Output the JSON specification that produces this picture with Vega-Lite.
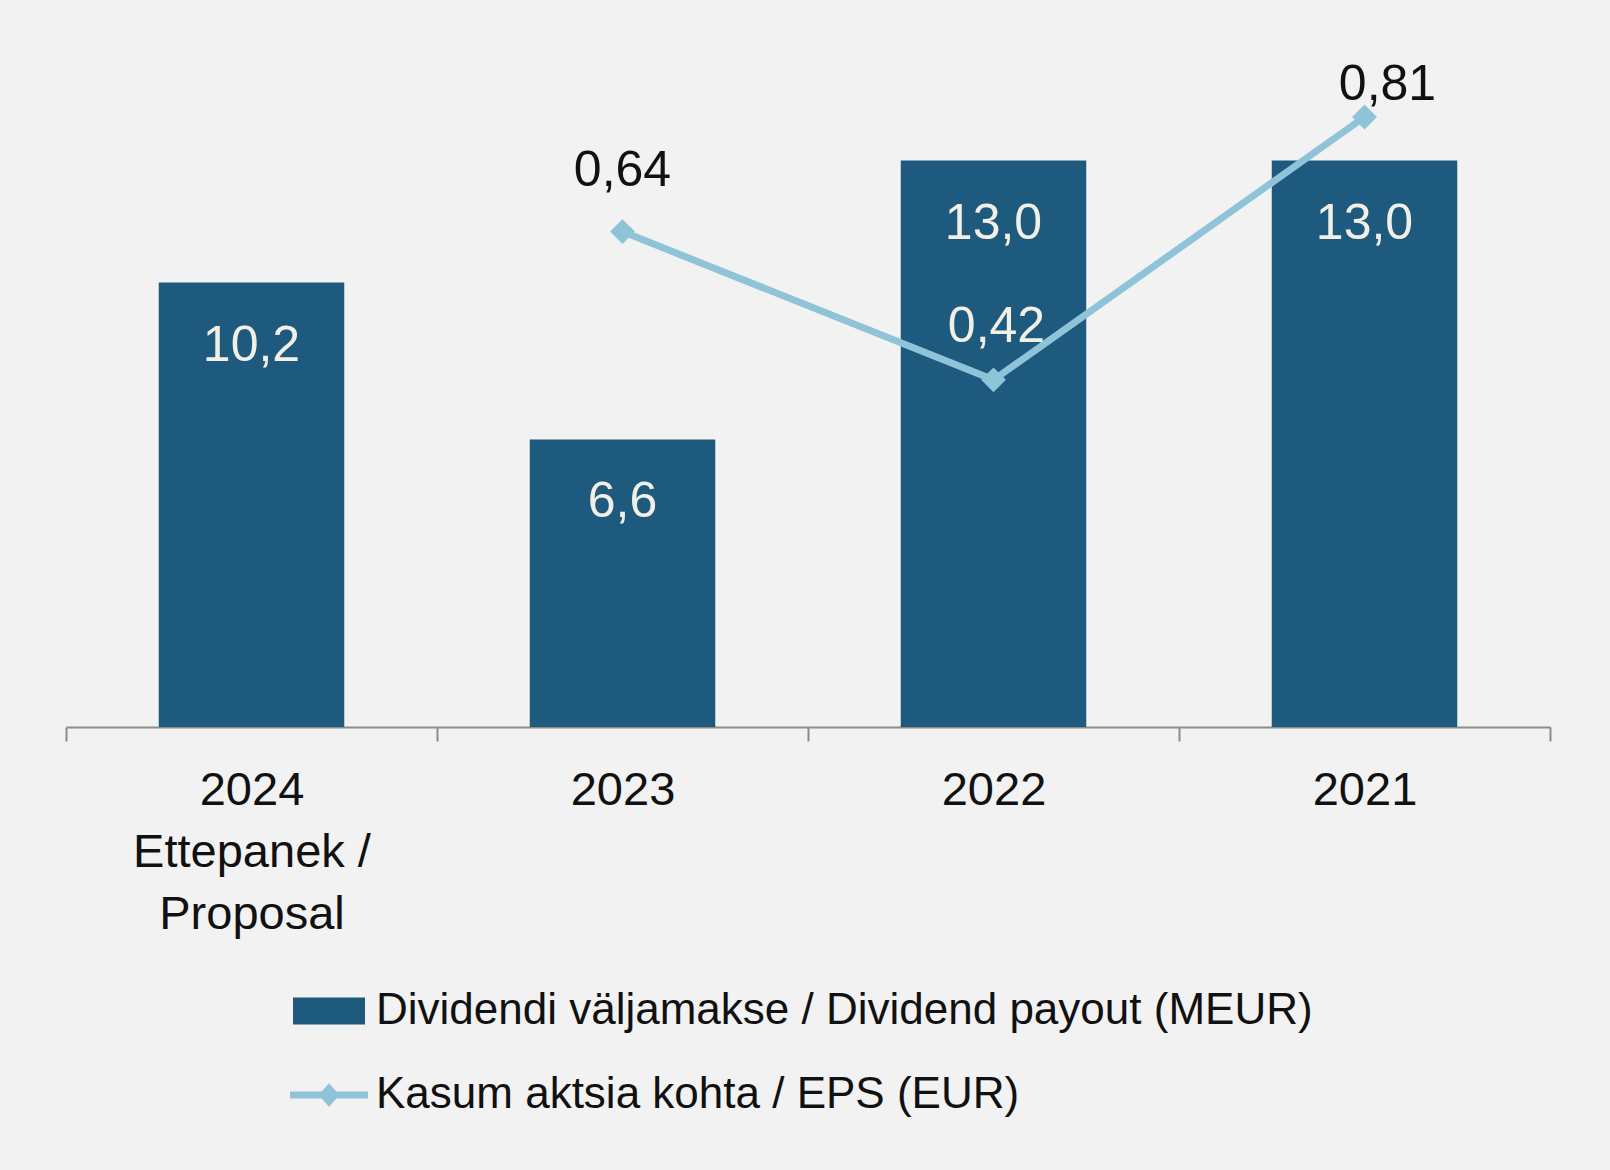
{
  "$schema": "https://vega.github.io/schema/vega-lite/v6.json",
  "width": 1484,
  "height": 610,
  "autosize": {"type": "none"},
  "padding": {"left": 66, "top": 117, "right": 60, "bottom": 443},
  "background": "#f2f2f2",
  "config": {
    "view": {"stroke": null},
    "font": "Liberation Sans",
    "locale": {"number": {"decimal": ",", "thousands": " ", "grouping": [3], "currency": ["", " €"]}}
  },
  "data": {
    "values": [
      {"year": "2024", "div": 10.2, "eps": null},
      {"year": "2023", "div": 6.6, "eps": 0.64},
      {"year": "2022", "div": 13.0, "eps": 0.42},
      {"year": "2021", "div": 13.0, "eps": 0.81}
    ]
  },
  "encoding": {
    "x": {
      "field": "year",
      "type": "nominal",
      "sort": null,
      "scale": {"paddingInner": 0, "paddingOuter": 0},
      "axis": {
        "title": null,
        "labelAngle": 0,
        "labelFontSize": 47,
        "labelFont": "Liberation Sans",
        "labelColor": "#111111",
        "domainColor": "#8c8c8c",
        "domainWidth": 2,
        "tickColor": "#8c8c8c",
        "tickWidth": 2,
        "tickSize": 14,
        "tickBand": "extent",
        "labelPadding": 26,
        "labelBaseline": "top",
        "labelLineHeight": 62,
        "labelLimit": 0,
        "labelOverlap": false,
        "labelExpr": "datum.value == '2024' ? ['2024', 'Ettepanek /', 'Proposal'] : datum.value"
      }
    }
  },
  "layer": [
    {
      "encoding": {
        "y": {"field": "div", "type": "quantitative", "scale": {"domain": [0, 14], "nice": false}, "axis": null}
      },
      "layer": [
        {
          "mark": {"type": "bar", "width": {"band": 0.5}},
          "encoding": {
            "fill": {
              "datum": "Dividendi väljamakse / Dividend payout (MEUR)",
              "type": "nominal",
              "scale": {"range": ["#1d5a7e"]},
              "legend": {
                "orient": "none",
                "legendX": 227,
                "legendY": 858,
                "title": null,
                "padding": 0,
                "symbolType": "M-1,-0.375H1V0.375H-1Z",
                "symbolSize": 5184,
                "symbolStrokeWidth": 0,
                "labelFontSize": 44,
                "labelFont": "Liberation Sans",
                "labelColor": "#111111",
                "labelOffset": 11,
                "labelLimit": 0
              }
            }
          }
        },
        {
          "mark": {"type": "text", "baseline": "alphabetic", "dy": 78, "fontSize": 50, "color": "#f2f0e6"},
          "encoding": {"text": {"field": "div", "type": "quantitative", "format": ".1f"}}
        }
      ]
    },
    {
      "encoding": {
        "y": {"field": "eps", "type": "quantitative", "scale": {"domain": [-0.095, 0.81], "nice": false, "zero": false}, "axis": null}
      },
      "layer": [
        {
          "mark": {"type": "line", "strokeWidth": 7},
          "encoding": {
            "stroke": {
              "datum": "Kasum aktsia kohta / EPS (EUR)",
              "type": "nominal",
              "scale": {"range": ["#8fc3d8"]},
              "legend": {
                "orient": "none",
                "legendX": 224,
                "legendY": 939,
                "title": null,
                "padding": 0,
                "symbolType": "M-1,-0.09H1V0.09H-1Z M-0.27,0L0,-0.3L0.27,0L0,0.3Z",
                "symbolSize": 6084,
                "symbolFillColor": "#8fc3d8",
                "symbolStrokeWidth": 0,
                "labelFontSize": 44,
                "labelFont": "Liberation Sans",
                "labelColor": "#111111",
                "labelOffset": 8,
                "labelLimit": 0,
                "encode": {"symbols": {"update": {"fill": {"value": "#8fc3d8"}, "strokeWidth": {"value": 0}, "opacity": {"value": 1}}}}
              }
            }
          }
        },
        {
          "mark": {"type": "point", "shape": "diamond", "filled": true, "size": 620, "color": "#8fc3d8", "opacity": 1}
        },
        {
          "transform": [{"filter": "datum.year == '2023'"}],
          "mark": {"type": "text", "baseline": "alphabetic", "dy": -46, "fontSize": 50, "color": "#111111"},
          "encoding": {"text": {"field": "eps", "type": "quantitative", "format": ".2f"}}
        },
        {
          "transform": [{"filter": "datum.year == '2022'"}],
          "mark": {"type": "text", "baseline": "alphabetic", "dy": -38, "dx": 3, "fontSize": 50, "color": "#f2f0e6"},
          "encoding": {"text": {"field": "eps", "type": "quantitative", "format": ".2f"}}
        },
        {
          "transform": [{"filter": "datum.year == '2021'"}],
          "mark": {"type": "text", "baseline": "alphabetic", "dy": -17, "dx": 23, "fontSize": 50, "color": "#111111"},
          "encoding": {"text": {"field": "eps", "type": "quantitative", "format": ".2f"}}
        }
      ]
    }
  ],
  "resolve": {"scale": {"y": "independent"}}
}
